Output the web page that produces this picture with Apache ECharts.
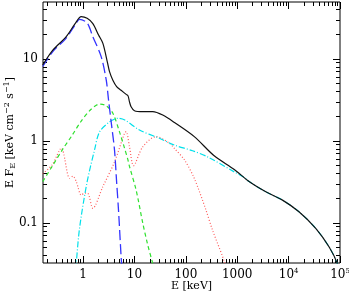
<!DOCTYPE html>
<html>
<head>
<meta charset="utf-8">
<script src="https://cdn.jsdelivr.net/npm/echarts@6/dist/echarts.min.js"></script>
<style>
  html, body { margin: 0; padding: 0; background: #fff; }
  #chart { width: 349px; height: 295px; }
</style>
</head>
<body>
<div id="chart"></div>
<script>
// energies in keV, fluxes E F_E in keV cm^-2 s^-1
const totalE = [0.164, 0.26, 0.47, 0.7, 0.92, 1.2, 1.55, 2.0, 2.43, 3.0, 3.27, 3.8, 4.5, 5.5, 6.9, 7.5, 8.0, 8.6, 10, 14.5, 22.7, 35.5, 60, 146, 356, 875, 1700, 3600, 7600, 15900, 33700, 61500, 88600, 100000]
const totalF = [8.45, 12.9, 18.7, 27, 32.8, 31.3, 27, 19.6, 15.5, 8.9, 7.0, 5.5, 4.6, 4.15, 3.7, 3.55, 3.0, 2.62, 2.34, 2.28, 2.28, 2.07, 1.68, 1.13, 0.66, 0.45, 0.32, 0.24, 0.19, 0.137, 0.086, 0.051, 0.032, 0.022]

const blueE = [0.164, 0.26, 0.47, 0.7, 0.855, 1.2, 1.55, 2.25, 2.82, 3.13, 3.58, 4.09, 4.47, 4.89, 5.52, 5.85]
const blueF = [8.1, 12.4, 18, 26, 30.5, 27.5, 18.7, 10.7, 5.55, 3.16, 1.57, 0.777, 0.334, 0.144, 0.0374, 0.023]

const greenE = [0.164, 0.25, 0.405, 0.6, 0.92, 1.4, 2.09, 2.8, 3.8, 5.1, 6.4, 7.4, 8.0, 10.8, 14.5, 18, 22.7, 25]
const greenF = [0.32, 0.49, 0.8, 1.15, 1.75, 2.4, 2.82, 2.7, 2.18, 1.3, 0.82, 0.6, 0.49, 0.25, 0.1, 0.055, 0.032, 0.025]

const cyanE = [0.7, 0.738, 0.855, 1.186, 1.67, 2.09, 3.27, 4.74, 6.5, 12.5, 30.6, 60, 135, 265, 875, 1370, 1700, 3600, 7600, 15900, 33700, 61500, 88600, 100000]
const cyanF = [0.02, 0.0325, 0.087, 0.307, 0.777, 1.29, 1.71, 1.89, 1.8, 1.36, 1.08, 0.89, 0.76, 0.64, 0.42, 0.36, 0.32, 0.24, 0.19, 0.137, 0.086, 0.051, 0.032, 0.022]

const redE = [0.164, 0.25, 0.377, 0.547, 0.634, 0.738, 0.923, 1.07, 1.24, 1.55, 2.42, 4.09, 6.4, 6.9, 8.0, 9.6, 14.5, 26.4, 48, 60, 93.6, 146, 246, 330, 575, 650]
const redF = [0.40, 0.51, 0.815, 0.351, 0.373, 0.319, 0.219, 0.232, 0.23, 0.151, 0.277, 0.555, 1.24, 1.30, 0.85, 0.50, 0.85, 1.13, 0.94, 0.81, 0.59, 0.35, 0.144, 0.082, 0.032, 0.02]

// tick labels (log10 exponents)
const xTickExps = [0, 1, 2, 3, 4, 5]
const xTickLabels = ['1', '10', '100', '1000', '10{sup|4}', '10{sup|5}']
const yTickExps = [-1, 0, 1]
const yTickLabels = ['0.1', '1', '10']

const X_MIN = -0.78, X_MAX = 5
const Y_MIN = -1.488, Y_MAX = 1.695
const FONT = 'DejaVu Serif'

function toLog(es, fs) {
  return es.map((e, i) => [Math.log10(e), Math.log10(fs[i])])
}

// log-spaced minor ticks (2..9 in each decade)
function logMinor(lo, hi) {
  const out = []
  for (let n = Math.floor(lo) - 1; n <= Math.ceil(hi); n++) {
    for (let k = 2; k <= 9; k++) {
      const v = n + Math.log10(k)
      if (v > lo && v < hi) out.push(v)
    }
  }
  return out
}

function tickAxis(position, min, max, values, len) {
  return {
    type: 'value',
    position: position,
    min: min,
    max: max,
    axisLine: { show: false, onZero: false },
    splitLine: { show: false },
    axisTick: { inside: true, length: len, customValues: values, lineStyle: { color: '#000', width: 1 } },
    axisLabel: { show: false, customValues: values }
  }
}

const supRich = {
  sup: { fontSize: 8, fontFamily: FONT, color: '#000', verticalAlign: 'top', lineHeight: 9 },
  sub: { fontSize: 8, fontFamily: FONT, color: '#000', verticalAlign: 'bottom', lineHeight: 9 }
}
const tickRich = {
  sup: { fontSize: 7, fontFamily: FONT, color: '#000', verticalAlign: 'top', lineHeight: 8 }
}

const xMinor = logMinor(X_MIN, X_MAX)
const yMinor = logMinor(Y_MIN, Y_MAX)

const xMain = tickAxis('bottom', X_MIN, X_MAX, xTickExps, 7)
xMain.axisLabel = {
  show: true,
  customValues: xTickExps,
  margin: 5,
  fontFamily: FONT,
  fontSize: 12,
  color: '#000',
  lineHeight: 14,
  formatter: v => xTickLabels[xTickExps.indexOf(Math.round(v))],
  rich: tickRich
}
xMain.name = 'E [keV]'
xMain.nameLocation = 'middle'
xMain.nameGap = 18
xMain.nameMoveOverlap = false
xMain.nameTextStyle = { fontFamily: FONT, fontSize: 11, color: '#000' }

const yMain = tickAxis('left', Y_MIN, Y_MAX, yTickExps, 7)
yMain.axisLabel = {
  show: true,
  customValues: yTickExps,
  margin: 5,
  fontFamily: FONT,
  fontSize: 12,
  color: '#000',
  formatter: v => yTickLabels[yTickExps.indexOf(Math.round(v))]
}
yMain.name = 'E F{sub|E} [keV cm{sup|−2} s{sup|−1}]'
yMain.nameLocation = 'middle'
yMain.nameGap = 26
yMain.nameMoveOverlap = false
yMain.nameTextStyle = { fontFamily: FONT, fontSize: 11, color: '#000', lineHeight: 14, rich: supRich }

const chart = echarts.init(document.getElementById('chart'))

const option = {
  backgroundColor: '#fff',
  animation: false,
  grid: {
    left: 43, right: 9, top: 2, bottom: 32,
    outerBoundsMode: 'none',
    show: true, borderColor: '#000', borderWidth: 1
  },
  xAxis: [
    xMain,
    tickAxis('bottom', X_MIN, X_MAX, xMinor, 4),
    tickAxis('top', X_MIN, X_MAX, xTickExps, 7),
    tickAxis('top', X_MIN, X_MAX, xMinor, 4)
  ],
  yAxis: [
    yMain,
    tickAxis('left', Y_MIN, Y_MAX, yMinor, 4),
    tickAxis('right', Y_MIN, Y_MAX, yTickExps, 7),
    tickAxis('right', Y_MIN, Y_MAX, yMinor, 4)
  ],
  series: [
    {
      name: 'red',
      type: 'line',
      data: toLog(redE, redF),
      smooth: 0.3,
      showSymbol: false,
      lineStyle: { color: '#ff5a5a', width: 1.2, type: [1, 2] }
    },
    {
      name: 'green',
      type: 'line',
      data: toLog(greenE, greenF),
      smooth: 0.3,
      showSymbol: false,
      lineStyle: { color: '#2ee02e', width: 1.2, type: [4, 3] }
    },
    {
      name: 'cyan',
      type: 'line',
      data: toLog(cyanE, cyanF),
      smooth: 0.3,
      showSymbol: false,
      lineStyle: { color: '#00e0ea', width: 1.2, type: [6, 2, 1, 2] }
    },
    {
      name: 'blue',
      type: 'line',
      data: toLog(blueE, blueF),
      smooth: 0.3,
      showSymbol: false,
      lineStyle: { color: '#3333ff', width: 1.3, type: [10, 4] }
    },
    {
      name: 'total',
      type: 'line',
      data: toLog(totalE, totalF),
      smooth: 0.3,
      showSymbol: false,
      lineStyle: { color: '#111', width: 1.2 }
    }
  ]
}

chart.setOption(option)
</script>
</body>
</html>
